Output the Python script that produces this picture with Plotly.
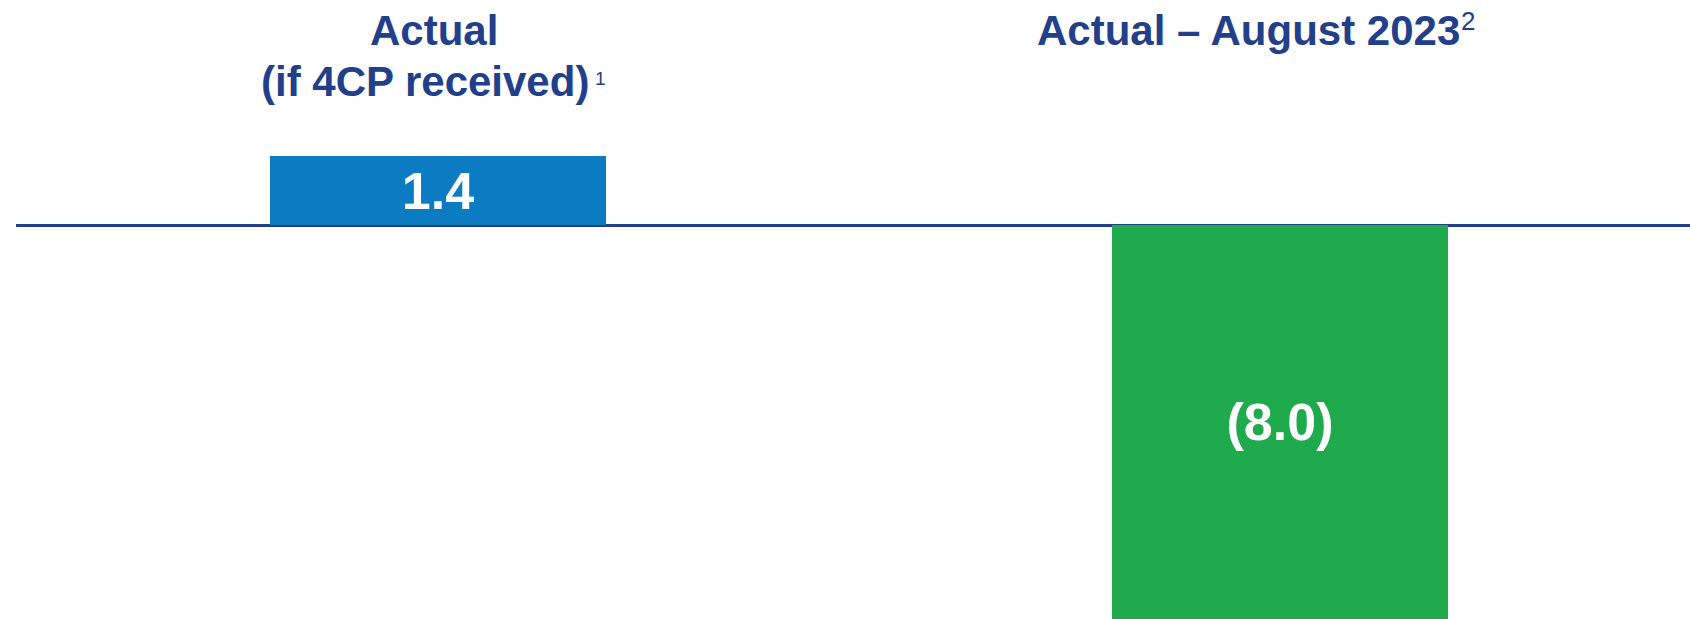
import plotly.graph_objects as go

categories = ["Actual (if 4CP received)", "Actual – August 2023"]
values = [1.4, -8.0]
bar_colors = ["#0B7CC1", "#1EAA4D"]
title_lines = [["Actual", "(if 4CP received)"], ["Actual – August 2023"]]
footnote_marks = ["1", "2"]

NAVY = "#22408A"
FONT = "Liberation Sans, Arial, sans-serif"
W, H = 1690, 619
ML = 16

labels = [f"({abs(v):.1f})" if v < 0 else f"{v:.1f}" for v in values]

fig = go.Figure()
fig.add_trace(go.Bar(
    x=list(range(len(categories))),
    y=values,
    width=0.4,
    marker=dict(color=bar_colors, line=dict(width=0)),
    text=[f"<b>{t}</b>" for t in labels],
    textposition="inside",
    insidetextanchor="middle",
    constraintext="none",
    textfont=dict(family=FONT, size=52, color="white"),
    hoverinfo="skip",
    cliponaxis=False,
))

def py2paper(py):
    return 1 - py / H

def px2paper(px):
    return (px - ML) / (W - ML)

line_centers = [31, 81]
line_shifts = [[-4, -12.5], [-31.5]]
for i, lines in enumerate(title_lines):
    for j, ln in enumerate(lines):
        fig.add_annotation(
            x=i, xref="x", y=py2paper(line_centers[j]), yref="paper",
            text=f"<b>{ln}</b>", showarrow=False,
            xanchor="center", yanchor="middle", xshift=line_shifts[i][j],
            font=dict(family=FONT, size=42, color=NAVY),
        )

# footnote superscripts
sup_pos = [(600, 79, 19), (1468, 21, 26)]
for mark, (px, pyc, fs) in zip(footnote_marks, sup_pos):
    fig.add_annotation(
        x=px2paper(px), xref="paper", y=py2paper(pyc), yref="paper",
        text=mark, showarrow=False, xanchor="center", yanchor="middle",
        font=dict(family=FONT, size=fs, color=NAVY),
    )

fig.update_layout(
    width=W, height=H,
    margin=dict(l=ML, r=0, t=0, b=0),
    paper_bgcolor="white", plot_bgcolor="white",
    showlegend=False, hovermode=False,
    xaxis=dict(range=[-0.5012, 1.487], visible=False, fixedrange=True),
    yaxis=dict(range=[-8.0, 4.569], showgrid=False, showticklabels=False,
               zeroline=True, zerolinecolor=NAVY, zerolinewidth=3,
               layer="above traces", fixedrange=True),
    bargap=0,
)

fig.write_html("out.html", config={"displayModeBar": False})
